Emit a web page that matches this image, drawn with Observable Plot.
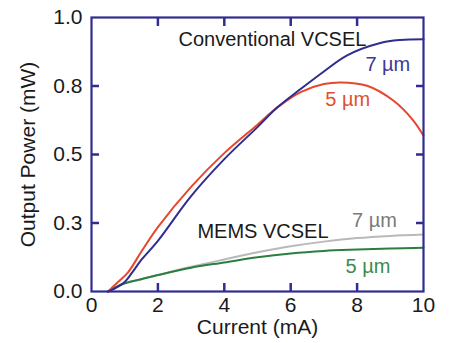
<!DOCTYPE html>
<html><head><meta charset="utf-8">
<script src="https://cdn.jsdelivr.net/npm/d3@7"></script>
<script src="https://cdn.jsdelivr.net/npm/@observablehq/plot@0.6"></script>
<style>body{margin:0;background:#fff} svg{display:block}</style>
</head><body><div id="chart"></div>
<script>
// Conventional VCSEL, 7 µm aperture (navy)
const conv7Current = [0.5, 0.8, 1.0, 1.2, 1.5, 2, 3, 4, 5, 5.6, 6.3, 7.0, 7.7, 8.7, 9.3, 10];
const conv7Power   = [0, 0.018, 0.035, 0.065, 0.115, 0.185, 0.348, 0.483, 0.6, 0.672, 0.739, 0.803, 0.862, 0.907, 0.918, 0.921];
// Conventional VCSEL, 5 µm aperture (red)
const conv5Current = [0.5, 0.8, 1.1, 1.5, 2, 3, 4, 5, 5.6, 6.3, 7.0, 7.5, 8.3, 9.1, 9.7, 10];
const conv5Power   = [0, 0.035, 0.07, 0.145, 0.235, 0.382, 0.505, 0.609, 0.672, 0.728, 0.757, 0.763, 0.751, 0.696, 0.623, 0.568];
// MEMS VCSEL, 7 µm aperture (gray)
const mems7Current = [0.5, 1, 1.5, 2, 3, 4, 5, 6, 7, 8, 9, 10];
const mems7Power   = [0, 0.03, 0.045, 0.06, 0.09, 0.117, 0.143, 0.165, 0.182, 0.195, 0.203, 0.208];
// MEMS VCSEL, 5 µm aperture (green)
const mems5Current = [0.5, 1, 1.5, 2, 3, 4, 5, 6, 7, 8, 9, 10];
const mems5Power   = [0, 0.03, 0.045, 0.06, 0.087, 0.106, 0.125, 0.139, 0.148, 0.153, 0.157, 0.16];

const xTicks = [0, 2, 4, 6, 8, 10];
const xTickLabels = ["0", "2", "4", "6", "8", "10"];
const yTicks = [0, 0.25, 0.5, 0.75, 1.0];
const yTickLabels = ["0.0", "0.3", "0.5", "0.8", "1.0"];
const xInner = [2, 4, 6, 8];
const yInner = [0.25, 0.5, 0.75];

const labelText = ["Conventional VCSEL", "7 µm", "5 µm", "MEMS VCSEL", "7 µm", "5 µm"];
const labelCurrent = [2.62, 8.25, 7.04, 3.19, 7.85, 7.65];
const labelPower = [0.897, 0.806, 0.678, 0.197, 0.234, 0.069];

const navy = "#2f2d8f";
const red = "#e5482c";
const gray = "#b9b9b9";
const green = "#2a7f3e";
const labelColors = ["#1a1a1a", "#3c3a96", "#e0502f", "#1a1a1a", "#7a7a7a", "#3d8a4d"];

const labels = labelText.map((t, i) => ({t, x: labelCurrent[i], y: labelPower[i], c: labelColors[i]}));

const W = 449, H = 343, mL = 91, mR = 26, mT = 17, mB = 52;

const chart = Plot.plot({
  width: W,
  height: H,
  marginLeft: mL,
  marginRight: mR,
  marginTop: mT,
  marginBottom: mB,
  style: {fontFamily: "'Liberation Sans', Arial, Helvetica, sans-serif", fontSize: "21px", background: "#fff", color: "#1a1a1a"},
  x: {domain: [0, 10]},
  y: {domain: [0, 1]},
  marks: [
    // tick labels
    Plot.axisX({anchor: "bottom", ticks: xTicks, tickFormat: d => xTickLabels[xTicks.indexOf(d)], tickSize: 0, tickPadding: 6, label: null, fill: "#1a1a1a", fontSize: 21}),
    Plot.axisY({anchor: "left", ticks: yTicks, tickFormat: d => yTickLabels[yTicks.indexOf(d)], tickSize: 0, tickPadding: 9, label: null, fill: "#1a1a1a", fontSize: 21}),
    // inward ticks on all four sides
    Plot.axisX({anchor: "bottom", ticks: xInner, tickSize: -8, stroke: navy, strokeWidth: 2.5, fill: "none", label: null}),
    Plot.axisX({anchor: "top", ticks: xInner, tickSize: -8, stroke: navy, strokeWidth: 2.5, fill: "none", label: null}),
    Plot.axisY({anchor: "left", ticks: yInner, tickSize: -8, stroke: navy, strokeWidth: 2.5, fill: "none", label: null}),
    Plot.axisY({anchor: "right", ticks: yInner, tickSize: -8, stroke: navy, strokeWidth: 2.5, fill: "none", label: null}),
    // curves
    Plot.line(mems7Power, {x: mems7Current, y: mems7Power, stroke: gray, strokeWidth: 2, curve: "catmull-rom"}),
    Plot.line(mems5Power, {x: mems5Current, y: mems5Power, stroke: green, strokeWidth: 2, curve: "catmull-rom"}),
    Plot.line(conv5Power, {x: conv5Current, y: conv5Power, stroke: red, strokeWidth: 2, curve: "catmull-rom"}),
    Plot.line(conv7Power, {x: conv7Current, y: conv7Power, stroke: navy, strokeWidth: 2, curve: "catmull-rom"}),
    // frame
    Plot.frame({stroke: navy, strokeWidth: 2.2}),
    // annotations
    Plot.text(labels, {x: "x", y: "y", text: "t", fill: "c", textAnchor: "start", lineAnchor: "bottom", fontSize: 20}),
    // axis titles
    Plot.text(["Current (mA)"], {frameAnchor: "bottom", text: d => d, textAnchor: "middle", dy: 42, lineAnchor: "bottom", fontSize: 21, fill: "#1a1a1a"}),
    Plot.text(["Output Power (mW)"], {frameAnchor: "left", text: d => d, textAnchor: "middle", dx: -63, rotate: -90, fontSize: 21, fill: "#1a1a1a"})
  ]
});
document.getElementById("chart").appendChild(chart);
</script>
</body></html>
